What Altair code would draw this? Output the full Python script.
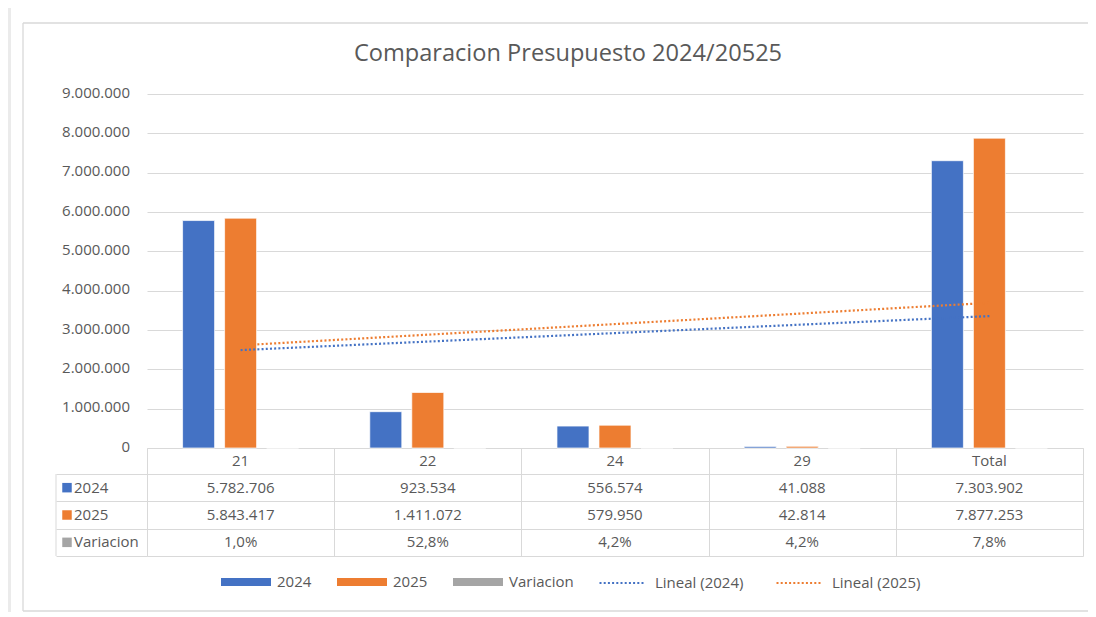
import altair as alt
import pandas as pd

# ---------------- data ----------------
categorias = ["21", "22", "24", "29", "Total"]
series = ["2024", "2025", "Variacion"]
valores_2024 = [5782706, 923534, 556574, 41088, 7303902]
valores_2025 = [5843417, 1411072, 579950, 42814, 7877253]
variacion = [0.010, 0.528, 0.042, 0.042, 0.078]
colores = ["#4472C4", "#ED7D31", "#A5A5A5"]
ticks_y = [0, 1000000, 2000000, 3000000, 4000000, 5000000, 6000000, 7000000, 8000000, 9000000]
titulo = "Comparacion Presupuesto 2024/20525"

# ---------------- styles ----------------
FONT = "Open Sans"
TXT = "#595959"
GRID = "#d9d9d9"
W, H = 936, 354


def miles(v):
    return f"{v:,}".replace(",", ".")


def pct(v):
    return f"{v * 100:.1f}%".replace(".", ",")


filas = []
for i, c in enumerate(categorias):
    filas.append(dict(cat=c, orden=i + 1, serie="2024", valor=valores_2024[i], texto=miles(valores_2024[i])))
    filas.append(dict(cat=c, orden=i + 1, serie="2025", valor=valores_2025[i], texto=miles(valores_2025[i])))
    filas.append(dict(cat=c, orden=i + 1, serie="Variacion", valor=variacion[i], texto=pct(variacion[i])))
df = pd.DataFrame(filas)
df_cat = pd.DataFrame({"cat": categorias})
df_series = pd.DataFrame({"serie": series})
df_one = pd.DataFrame({"k": [0]})
df_titulo = pd.DataFrame({"t": [titulo]})

x_cat = alt.X(
    "cat:N",
    sort=categorias,
    scale=alt.Scale(domain=categorias, paddingInner=0, paddingOuter=0),
    axis=alt.Axis(
        title=None, orient="bottom", labels=False, grid=False, domain=True, domainColor=GRID,
        domainWidth=1, ticks=True, tickBand="extent", tickSize=108, tickColor=GRID, tickWidth=1,
    ),
)

y_val = alt.Y(
    "valor:Q",
    scale=alt.Scale(domain=[0, 9000000], nice=False, zero=True),
    axis=alt.Axis(
        title=None, orient="left", values=ticks_y, grid=True, gridColor=GRID, gridWidth=1,
        domain=False, ticks=False, tickSize=0, labelPadding=17.5, labelOverlap=False,
        labelExpr="join(split(format(datum.value, ','), ','), '.')",
        labelFont=FONT, labelFontSize=15, labelColor=TXT, labelOffset=-2,
    ),
)

fill_enc = alt.Fill(
    "serie:N",
    sort=series,
    scale=alt.Scale(domain=series, range=colores),
    legend=alt.Legend(
        title=None, orient="none", direction="horizontal", legendX=74, legendY=463,
        symbolType="M-1,-0.16H1V0.16H-1Z", symbolSize=2500, symbolStrokeWidth=0,
        labelFont=FONT, labelFontSize=15, labelColor=TXT, labelOffset=6,
        columnPadding=25, padding=0,
    ),
)

barras = alt.Chart(df).mark_bar(stroke="white", strokeWidth=0.7).encode(
    x=x_cat,
    xOffset=alt.XOffset(
        "serie:N", sort=series,
        scale=alt.Scale(domain=series, paddingInner=0.238, paddingOuter=0.847),
    ),
    y=y_val,
    fill=fill_enc,
)

lista_cat = "[" + ",".join(f"'{c}'" for c in categorias) + "]"
tendencia = (
    alt.Chart(df)
    .transform_filter(alt.FieldOneOfPredicate(field="serie", oneOf=["2024", "2025"]))
    .transform_regression("orden", "valor", groupby=["serie"], method="linear", extent=[1, 5])
    .transform_calculate(cat=f"{lista_cat}[round(datum.orden) - 1]")
    .mark_line(strokeDash=[2, 2.2], strokeWidth=2.2)
    .encode(
        x=x_cat,
        y=y_val,
        stroke=alt.Stroke(
            "serie:N",
            scale=alt.Scale(domain=["2024", "2025"], range=colores[:2]),
            legend=alt.Legend(
                title=None, orient="none", direction="horizontal", legendX=451, legendY=465,
                symbolType="stroke", symbolSize=2025, symbolStrokeWidth=2.2,
                symbolDash=[2, 2.2],
                labelExpr="'Lineal (' + datum.label + ')'",
                labelFont=FONT, labelFontSize=15, labelColor=TXT, labelOffset=9,
                columnPadding=28, padding=0,
            ),
        ),
    )
)

grafico = alt.layer(barras, tendencia)

fila_y = alt.Y(
    "serie:N",
    sort=series,
    scale=alt.Scale(domain=series, range=[380, 462], paddingInner=0, paddingOuter=0),
    axis=alt.Axis(
        title=None, orient="left", labels=False, domain=False,
        grid=True, gridColor=GRID, gridWidth=1,
        ticks=True, tickBand="extent", tickSize=91, tickColor=GRID, tickWidth=1,
    ),
)

tabla_txt = alt.Chart(df).mark_text(font=FONT, fontSize=15, color=TXT).encode(
    x=x_cat, y=fila_y, text="texto:N"
)
etiquetas = alt.Chart(df_series).mark_text(
    font=FONT, fontSize=15, color=TXT, align="left"
).encode(x=alt.value(-73), y=fila_y, text="serie:N")
cuadros = alt.Chart(df_series).mark_square(size=90, opacity=1).encode(
    x=alt.value(-80), y=fila_y, fill=fill_enc
)
tabla = alt.layer(tabla_txt, etiquetas, cuadros)

encabezado = alt.Chart(df_cat).mark_text(font=FONT, fontSize=15, color=TXT).encode(
    x=x_cat, y=alt.value(367), text="cat:N"
)
titulo_txt = alt.Chart(df_titulo).mark_text(
    font=FONT, fontSize=23.6, color=TXT, align="center", baseline="alphabetic"
).encode(x=alt.value(421), y=alt.value(-33), text="t:N")
borde_tabla = alt.Chart(df_one).mark_rule(color=GRID, strokeWidth=1).encode(
    x=alt.value(-91), y=alt.value(380), y2=alt.value(462)
)
# chart-area frame (left, top and bottom edges; the right edge lies past the picture)
marco_sup = alt.Chart(df_one).mark_rule(color=GRID, strokeWidth=1.3).encode(
    x=alt.value(-124), x2=alt.value(1000), y=alt.value(-71)
)
marco_inf = alt.Chart(df_one).mark_rule(color=GRID, strokeWidth=1.3).encode(
    x=alt.value(-124), x2=alt.value(1000), y=alt.value(517)
)
marco_izq = alt.Chart(df_one).mark_rule(color=GRID, strokeWidth=1.3).encode(
    x=alt.value(-124), y=alt.value(-71), y2=alt.value(517)
)
franja = alt.Chart(df_one).mark_rect(fill="#ebebeb").encode(
    x=alt.value(-139), x2=alt.value(-136), y=alt.value(-86), y2=alt.value(518)
)

chart = (
    alt.layer(franja, marco_sup, marco_inf, marco_izq, titulo_txt, grafico, tabla, encabezado, borde_tabla)
    .resolve_scale(y="independent")
    .properties(
        width=W,
        height=H,
        background="white",
        autosize=alt.AutoSizeParams(type="none"),
        padding={"left": 139, "top": 86, "right": 5, "bottom": 164},
    )
    .configure_view(stroke=None)
)

chart.save("out.html", embed_options={"renderer": "svg", "actions": False})
